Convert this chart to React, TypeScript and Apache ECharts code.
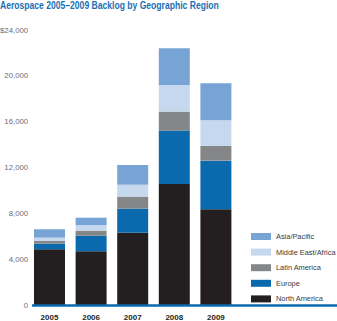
import React, { useEffect, useRef } from "react";
import * as echarts from "echarts";

const years = ["2005", "2006", "2007", "2008", "2009"];
const northAmerica = [4860, 4690, 6310, 10560, 8350];
const europe = [490, 1360, 2100, 4660, 4250];
const latinAmerica = [240, 440, 1050, 1660, 1280];
const middleEastAfrica = [290, 470, 1040, 2330, 2240];
const asiaPacific = [730, 660, 1720, 3200, 3230];
const legendOrder = ["Asia/Pacific", "Middle East/Africa", "Latin America", "Europe", "North America"];
const titleText = "Aerospace 2005\u20132009 Backlog by Geographic Region";

const FONT = "'Liberation Sans', Arial, sans-serif";

export default function App() {
  const ref = useRef<HTMLDivElement>(null);
  useEffect(() => {
    if (!ref.current) return;
    const chart = echarts.init(ref.current, null, { renderer: "svg" });
    const mk = (name: string, data: number[], color: string) => ({
      name,
      type: "bar",
      stack: "total",
      data,
      barWidth: 31,
      itemStyle: { color },
    });
    chart.setOption({
      animation: false,
      textStyle: { fontFamily: FONT },
      legend: {
        orient: "vertical",
        left: 246,
        top: 227,
        itemWidth: 20,
        itemHeight: 7,
        itemGap: 6.6,
        icon: "rect",
        data: legendOrder,
        textStyle: { fontSize: 7.4, lineHeight: 9, color: "#3a3a3a", fontFamily: FONT },
      },
      grid: { left: 28.7, width: 208, top: 30, bottom: 16, containLabel: false, outerBoundsMode: "none" },
      xAxis: {
        type: "category",
        data: years,
        axisLine: { show: false },
        axisTick: { show: false },
        axisLabel: { fontSize: 8, fontWeight: "bold", color: "#231f20", margin: 8, fontFamily: FONT },
      },
      yAxis: {
        type: "value",
        min: 0,
        max: 24000,
        interval: 4000,
        splitLine: { show: false },
        axisLine: { show: false },
        axisTick: { show: false },
        axisLabel: {
          fontSize: 7.8,
          color: "#6d6e71",
          margin: 0.5,
          fontFamily: FONT,
          formatter: (v: number) => {
            const s = v.toLocaleString("en-US");
            return v === 24000 ? "$" + s : s;
          },
        },
      },
      graphic: [
        {
          type: "text",
          x: 0,
          y: 0,
          scaleX: 0.78,
          style: {
            text: titleText,
            font: "bold 11px 'Liberation Sans', Arial, sans-serif",
            fill: "#1a6fb4",
            textVerticalAlign: "top",
          },
        },
        {
          type: "line",
          shape: { x1: 32, y1: 305.5, x2: 337, y2: 305.5 },
          style: { stroke: "#0a6aad", lineWidth: 2.5 },
          z: 100,
        },
      ],
      series: [
        mk("North America", northAmerica, "#231f20"),
        mk("Europe", europe, "#0a6aad"),
        mk("Latin America", latinAmerica, "#848688"),
        mk("Middle East/Africa", middleEastAfrica, "#c6d8ee"),
        mk("Asia/Pacific", asiaPacific, "#77a4d4"),
      ],
    });
    return () => chart.dispose();
  }, []);
  return <div ref={ref} style={{ position: "absolute", left: 0, top: 0, width: 337, height: 321 }} />;
}
